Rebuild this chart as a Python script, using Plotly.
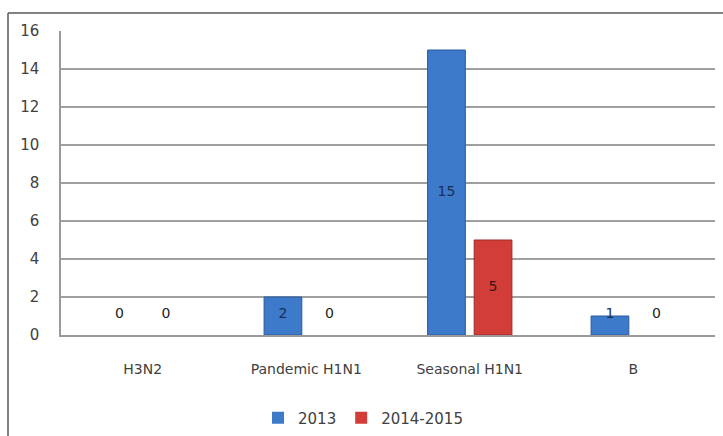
import plotly.graph_objects as go

categories = ["H3N2", "Pandemic H1N1", "Seasonal H1N1", "B"]
series_names = ["2013", "2014-2015"]
values_2013 = [0, 2, 15, 1]
values_2014_2015 = [0, 0, 5, 0]
y_ticks = [0, 2, 4, 6, 8, 10, 12, 14, 16]

colors = ["#3d7ac9", "#d23d37"]
edge_colors = ["#2a5a9c", "#9c2a26"]
label_colors = ["#1a2f5a", "#3a1412"]

W, H = 723, 436
ml, mr, mt, mb = 61, 8, 31, 101
pw, ph = W - ml - mr, H - mt - mb
FONT = "DejaVu Sans"

fig = go.Figure()
for name, vals, c, ec in zip(series_names, [values_2013, values_2014_2015], colors, edge_colors):
    fig.add_trace(go.Bar(
        x=categories, y=vals, name=name, offsetgroup=name,
        marker=dict(color=c, line=dict(color=ec, width=[1 if v > 0 else 0 for v in vals])),
        hoverinfo="x+y",
    ))

for name, vals, lc in zip(series_names, [values_2013, values_2014_2015], label_colors):
    fig.add_trace(go.Scatter(
        x=categories, y=[max(v / 2, 1.1) for v in vals], mode="text",
        text=[str(v) for v in vals], offsetgroup=name, showlegend=False,
        textfont=dict(family=FONT, size=14,
                      color=[lc if v > 0 else "#222222" for v in vals]),
        hoverinfo="skip",
    ))

fig.update_layout(
    width=W, height=H,
    margin=dict(l=ml, r=mr, t=mt, b=mb, autoexpand=False),
    paper_bgcolor="white", plot_bgcolor="white",
    barmode="group", bargap=0.43, bargroupgap=0.19,
    scattermode="group", scattergap=0.43,
    font=dict(family=FONT, size=14, color="#404040"),
    showlegend=True,
    legend=dict(orientation="h", x=(363 - ml) / pw, xanchor="center",
                y=-(418 - mt - ph) / ph, yanchor="middle",
                font=dict(family=FONT, size=15, color="#404040"),
                itemwidth=30, traceorder="normal"),
    xaxis=dict(showgrid=False, showline=True, linecolor="#9a9a9a", linewidth=1.5,
               ticks="", ticklabelstandoff=20, automargin=False,
               tickfont=dict(family=FONT, size=14, color="#404040")),
    yaxis=dict(range=[0, 16], tickvals=y_ticks, showgrid=True, gridcolor="#a0a0a0",
               gridwidth=1.5, showline=True, linecolor="#9a9a9a", linewidth=1.5,
               zeroline=False, ticks="", ticklabelstandoff=17, automargin=False,
               tickfont=dict(family=FONT, size=15, color="#404040")),
    shapes=[
        dict(type="line", xref="paper", yref="paper",
             x0=(8 - ml) / pw, x1=(8 - ml) / pw, y0=-(H - mt - ph) / ph, y1=1 + (mt - 13) / ph,
             line=dict(color="#5a5a5a", width=1.5)),
        dict(type="line", xref="paper", yref="paper",
             x0=(8 - ml) / pw, x1=1 + mr / pw, y0=1 + (mt - 13) / ph, y1=1 + (mt - 13) / ph,
             line=dict(color="#5a5a5a", width=1.5)),
    ],
)

fig.write_html("out.html", config={"displayModeBar": False},
               post_script="document.body.style.margin='0';document.body.style.overflow='hidden';")
